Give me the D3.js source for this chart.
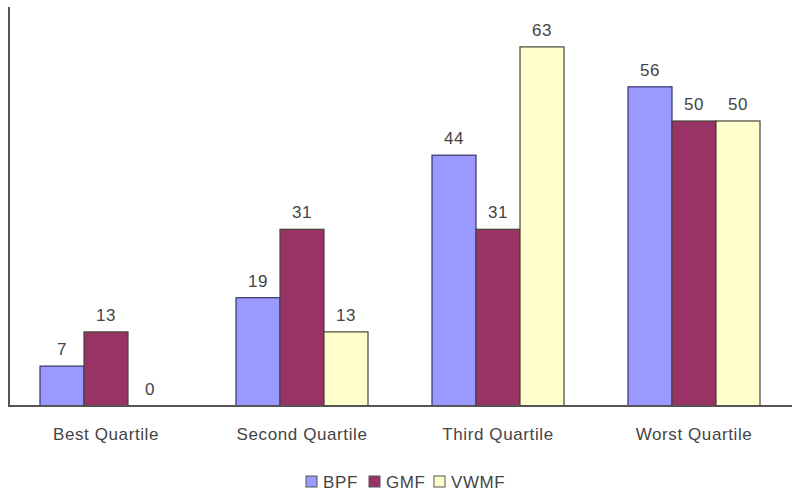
<!DOCTYPE html>
<html><head><meta charset="utf-8">
<script src="https://cdn.jsdelivr.net/npm/d3@7"></script>
<style>body{margin:0;background:#fff}svg{display:block}</style>
</head><body>
<script>
const categories = ["Best Quartile","Second Quartile","Third Quartile","Worst Quartile"];
const seriesNames = ["BPF","GMF","VWMF"];
const BPF = [7,19,44,56];
const GMF = [13,31,31,50];
const VWMF = [0,13,63,50];
const seriesColors = ["#9999FF","#993366","#FFFFCC"];

const W=800,H=497;
const svg=d3.select("body").append("svg").attr("width",W).attr("height",H);
const x0=d3.scaleBand().domain(categories).range([8,792]).paddingInner(64/196).paddingOuter(32/196);
const x1=d3.scaleBand().domain(seriesNames).range([0,x0.bandwidth()]);
const y=d3.scaleLinear().domain([0,70]).range([406,7]);
const vals=[BPF,GMF,VWMF];
const font="Liberation Sans, Arial, sans-serif";
const fs=17, ls=0.6;

categories.forEach((c,i)=>{
  const g=svg.append("g").attr("transform",`translate(${x0(c)},0)`);
  seriesNames.forEach((s,j)=>{
    const v=vals[j][i];
    if(v>0) g.append("rect").attr("x",x1(s)).attr("y",y(v)).attr("width",x1.bandwidth()).attr("height",y(0)-y(v))
      .attr("fill",seriesColors[j]).attr("stroke",j===0?"#333366":"#444433").attr("stroke-width",1.2);
    g.append("text").attr("x",x1(s)+x1.bandwidth()/2).attr("y",y(v)-11).attr("text-anchor","middle")
      .attr("font-family",font).attr("font-size",fs).attr("letter-spacing",ls).attr("fill","#444").text(v);
  });
});
// axes
svg.append("line").attr("x1",9).attr("x2",9).attr("y1",7).attr("y2",406).attr("stroke","#555").attr("stroke-width",2);
svg.append("line").attr("x1",8).attr("x2",792).attr("y1",406).attr("y2",406).attr("stroke","#555").attr("stroke-width",2);
const xAxis=d3.axisBottom(x0).tickSize(0).tickPadding(0);
const ax=svg.append("g").attr("transform","translate(0,406)").call(xAxis);
ax.select(".domain").remove();
ax.selectAll("text").attr("dy",null).attr("y",34).attr("font-family",font).attr("font-size",fs)
  .attr("letter-spacing",ls).attr("fill","#444");

// legend
const legX=[306,369,434];
const lg=svg.append("g");
seriesNames.forEach((s,j)=>{
  lg.append("rect").attr("x",legX[j]).attr("y",476).attr("width",11).attr("height",11)
    .attr("fill",seriesColors[j]).attr("stroke","#555").attr("stroke-width",1);
  lg.append("text").attr("x",legX[j]+17).attr("y",488).attr("font-family",font).attr("font-size",fs)
    .attr("letter-spacing",ls).attr("fill","#444").text(s);
});
</script>
</body></html>
